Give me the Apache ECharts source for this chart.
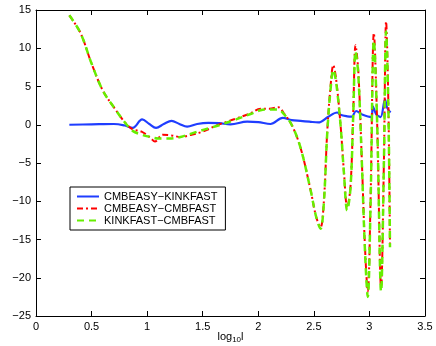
<!DOCTYPE html>
<html>
<head>
<meta charset="utf-8">
<script src="https://cdn.jsdelivr.net/npm/echarts@6/dist/echarts.min.js"></script>
<style>
  html, body { margin: 0; padding: 0; background: #fff; }
  #chart { width: 436px; height: 346px; }
</style>
</head>
<body>
<div id="chart"></div>
<script>
// log10(l) sample positions and percentage differences
const seriesNames = ['CMBEASY\u2212KINKFAST', 'CMBEASY\u2212CMBFAST', 'KINKFAST\u2212CMBFAST']

const blueX = [0.3, 0.5, 0.7, 0.8, 0.87, 0.955, 1.02, 1.08, 1.15, 1.22, 1.29, 1.36, 1.45, 1.55, 1.65, 1.75, 1.9, 2.0, 2.11, 2.22, 2.3, 2.38, 2.46, 2.54, 2.63, 2.71, 2.74, 2.8, 2.84, 2.88, 2.94, 3.02, 3.03, 3.06, 3.1, 3.14, 3.16, 3.19]
const blueY = [0, 0.05, 0.1, -0.1, -0.4, 0.7, 0.1, -0.4, 0.1, 0.5, 0.1, -0.25, 0.1, 0.25, 0.2, 0.05, 0.4, 0.35, 0.1, 0.9, 0.6, 0.5, 0.4, 0.3, 1.05, 1.6, 1.3, 1.1, 1.05, 1.8, 1.3, 1.0, 2.45, 1.4, 1.0, 3.3, 2.2, 1.6]

const redX = [0.3, 0.4, 0.5, 0.6, 0.7, 0.8, 0.87, 0.95, 1.03, 1.07, 1.14, 1.22, 1.3, 1.4, 1.5, 1.64, 1.8, 1.93, 2.02, 2.1, 2.18, 2.23, 2.3, 2.38, 2.47, 2.52, 2.56, 2.59, 2.62, 2.65, 2.675, 2.7, 2.74, 2.77, 2.8, 2.83, 2.855, 2.875, 2.9, 2.93, 2.96, 2.985, 3.01, 3.04, 3.07, 3.105, 3.13, 3.15, 3.17, 3.185]
const redY = [14.3, 12.0, 8.0, 4.5, 2.3, 0.3, -0.6, -0.9, -1.7, -2.2, -1.3, -1.4, -1.6, -1.3, -0.9, 0, 0.8, 1.5, 2.1, 2.1, 2.3, 1.5, 0, -3, -8.5, -12, -13.4, -10, -1, 5, 7.8, 6, 0, -6, -10.8, -8, 2, 10.4, 7, -4, -16, -21.8, -10, 12, 0, -21.4, -5, 13.5, 3, -16]

const greenX = [0.3, 0.4, 0.5, 0.6, 0.7, 0.8, 0.87, 0.95, 1.03, 1.1, 1.2, 1.3, 1.43, 1.52, 1.64, 1.8, 1.93, 2.02, 2.1, 2.18, 2.23, 2.3, 2.38, 2.47, 2.52, 2.56, 2.59, 2.62, 2.65, 2.675, 2.7, 2.74, 2.77, 2.8, 2.83, 2.855, 2.875, 2.9, 2.93, 2.96, 2.985, 3.01, 3.04, 3.07, 3.105, 3.13, 3.15, 3.17, 3.185]
const greenY = [14.3, 12.0, 8.0, 4.5, 2.3, 0.3, -0.8, -1.3, -1.6, -1.8, -1.8, -1.6, -1.0, -0.6, -0.1, 0.7, 1.4, 1.9, 2.0, 2.0, 1.4, 0, -3, -8.5, -12, -13.6, -10.2, -1.2, 4.6, 7.2, 5.6, 0, -6.2, -11.2, -8.2, 1.6, 9.6, 6.5, -4.2, -16.5, -22.5, -10.5, 11, 0, -21.8, -5.2, 12.2, 2.6, -16]

const zip = (xs, ys) => xs.map((x, i) => [x, ys[i]])
const fmtNum = (v) => (v < 0 ? '\u2212' + Math.abs(v) : String(v))

const font = 'Liberation Sans, Arial, sans-serif'
const tick = { show: true, inside: true, length: 5, lineStyle: { color: '#000', width: 1 } }
const axisLine = { show: true, onZero: false, lineStyle: { color: '#000', width: 1 } }
// subscript styling shared by both axis names
const subRich = {
  a: { fontSize: 11, fontFamily: font, color: '#000' },
  s: { fontSize: 8, fontFamily: font, color: '#000', padding: [6, 0, 0, 0] }
}

const chart = echarts.init(document.getElementById('chart'))

chart.setOption({
  animation: false,
  backgroundColor: '#fff',
  grid: { left: 36, right: 11, top: 10, bottom: 30, containLabel: false, outerBoundsMode: 'none' },
  legend: {
    orient: 'vertical',
    left: 70,
    top: 187,
    padding: [4, 8, 4, 6],
    itemGap: 1,
    itemWidth: 22,
    itemHeight: 11,
    borderColor: '#000',
    borderWidth: 1,
    backgroundColor: '#fff',
    itemStyle: { opacity: 0 },
    textStyle: { color: '#000', fontSize: 11, fontFamily: font },
    data: seriesNames
  },
  xAxis: [
    {
      type: 'value',
      min: 0,
      max: 3.5,
      interval: 0.5,
      axisLine: axisLine,
      axisTick: tick,
      splitLine: { show: false },
      axisLabel: { color: '#000', fontSize: 11, fontFamily: font, margin: 5 },
      name: '{a|log}{s|10}{a|l}',
      nameLocation: 'middle',
      nameGap: 14,
      nameMoveOverlap: false,
      nameTextStyle: { rich: subRich, verticalAlign: 'top' }
    },
    {
      type: 'value',
      position: 'top',
      min: 0,
      max: 3.5,
      interval: 0.5,
      axisLine: axisLine,
      axisTick: tick,
      axisLabel: { show: false },
      splitLine: { show: false }
    }
  ],
  yAxis: [
    {
      type: 'value',
      min: -25,
      max: 15,
      interval: 5,
      axisLine: axisLine,
      axisTick: tick,
      splitLine: { show: false },
      axisLabel: { color: '#000', fontSize: 11, fontFamily: font, margin: 5, formatter: fmtNum },
      name: '{a|\u0394 C}{s|l}{a| / C}{s|l}{a| %}',
      nameLocation: 'middle',
      nameGap: 20,
      nameRotate: 90,
      nameTextStyle: { rich: subRich }
    },
    {
      type: 'value',
      position: 'right',
      min: -25,
      max: 15,
      interval: 5,
      axisLine: axisLine,
      axisTick: tick,
      axisLabel: { show: false },
      splitLine: { show: false }
    }
  ],
  series: [
    {
      name: seriesNames[0],
      type: 'line',
      data: zip(blueX, blueY),
      showSymbol: false,
      symbol: 'none',
      smooth: 0.35,
      lineStyle: { color: '#1f3dff', width: 2.2, type: 'solid' },
      itemStyle: { color: '#1f3dff' }
    },
    {
      name: seriesNames[1],
      type: 'line',
      data: zip(redX, redY),
      showSymbol: false,
      symbol: 'none',
      smooth: 0.35,
      lineStyle: { color: '#ff0000', width: 2, type: [6, 3, 2, 3] },
      itemStyle: { color: '#ff0000' }
    },
    {
      name: seriesNames[2],
      type: 'line',
      data: zip(greenX, greenY),
      showSymbol: false,
      symbol: 'none',
      smooth: 0.35,
      lineStyle: { color: '#66ee00', width: 2.5, type: [7, 5] },
      itemStyle: { color: '#66ee00' }
    }
  ]
})
</script>
</body>
</html>
